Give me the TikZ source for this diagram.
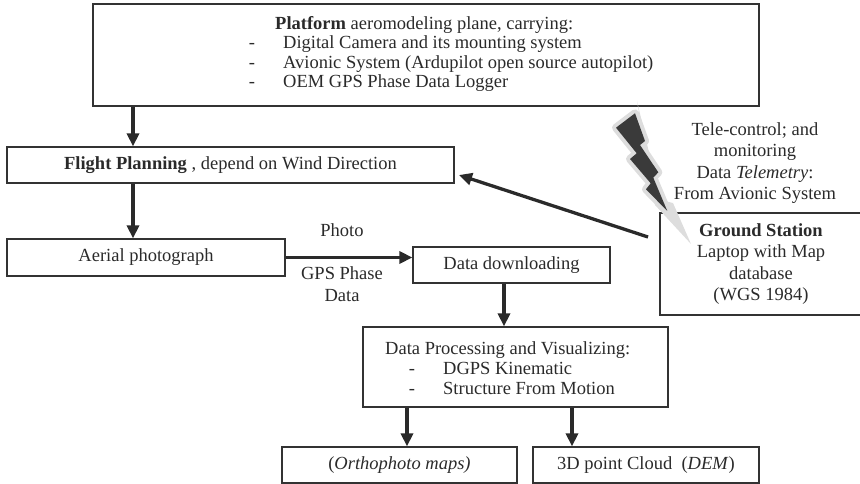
\documentclass[tikz,border=0pt]{standalone}
\usepackage{fontspec}
\setmainfont{Liberation Serif}
\usetikzlibrary{arrows.meta}
\definecolor{ink}{HTML}{2A2A2A}
\definecolor{line}{HTML}{333333}
\definecolor{bolt}{HTML}{3A3A3A}
\definecolor{glow}{HTML}{DDDDDD}
\begin{document}
\begin{tikzpicture}[x=1bp,y=-1bp,
  every node/.style={font=\fontsize{18.5bp}{21.5bp}\selectfont, text=ink},
  box/.style={draw=line, line width=1.2bp, rectangle, inner sep=0pt, align=center},
  arr/.style={draw=ink, line width=3.3bp, -{Triangle[length=13bp,width=12bp]}},
  lbl/.style={inner sep=0pt, align=center},
  ]
\useasboundingbox (0,0) rectangle (860,484);
\clip (0,0) rectangle (860,484);

% top box
\node[box, minimum width=666bp, minimum height=102bp] (top) at (426,55) {};
\node[lbl, anchor=base west] (t0) at (275,30) {\textbf{Platform} aeromodeling plane, carrying:};
\node[lbl, anchor=base] (td1) at (252,49) {-};
\node[lbl, anchor=base] (td2) at (252,68.5) {-};
\node[lbl, anchor=base] (td3) at (252,88) {-};
\node[lbl, anchor=base west] (t1) at (283,49) {Digital Camera and its mounting system};
\node[lbl, anchor=base west] (t2) at (283,68.5) {Avionic System (Ardupilot open source autopilot)};
\node[lbl, anchor=base west] (t3) at (283,88) {OEM GPS Phase Data Logger};

% other boxes
\node[box, minimum width=447bp, minimum height=36bp] (plan) at (230.5,165) {\textbf{Flight Planning} , depend on Wind Direction};
\node[box, minimum width=278bp, minimum height=37bp] (aer) at (146,257.5) {Aerial photograph};
\node[box, minimum width=197bp, minimum height=36bp] (dl) at (511.5,265) {Data downloading};
\node[box, minimum width=305bp, minimum height=80bp] (proc) at (515.5,367) {};
\node[lbl, anchor=base west] (p0) at (385,354) {Data Processing and Visualizing:};
\node[lbl, anchor=base] (pd1) at (412,374) {-};
\node[lbl, anchor=base] (pd2) at (412,394) {-};
\node[lbl, anchor=base west] (p1) at (443,374) {DGPS Kinematic};
\node[lbl, anchor=base west] (p2) at (443,394) {Structure From Motion};
\node[box, minimum width=235bp, minimum height=36bp] (ortho) at (399.5,465) {(\textit{Orthophoto maps)}};
\node[box, minimum width=226bp, minimum height=36bp] (cloud) at (646,465) {3D point Cloud\ \ (\textit{DEM})};
\node[box, minimum width=202bp, minimum height=102bp] (gs) at (761,264) {\textbf{Ground Station}\\Laptop with Map\\database\\(WGS 1984)};

% labels
\node[lbl] (tele) at (755,163) {Tele-control; and\\monitoring\\Data \textit{Telemetry}:\\From Avionic System};
\node[lbl] (photo) at (342,230) {Photo};
\node[lbl] (gps) at (342,284) {GPS Phase\\Data};

% arrows
\coordinate (xa) at (133,0);
\coordinate (xb) at (504,0);
\coordinate (xc) at (407,0);
\coordinate (xd) at (572,0);
\draw[arr] (xa |- top.south) -- (xa |- plan.north);
\draw[arr] (xa |- plan.south) -- (xa |- aer.north);
\draw[arr] (aer.east) -- (aer.east -| dl.west);
\draw[arr] (xb |- dl.south) -- (xb |- proc.north);
\draw[arr] (xc |- proc.south) -- (xc |- ortho.north);
\draw[arr] (xd |- proc.south) -- (xd |- cloud.north);
\coordinate (gsA) at (648,237);
\coordinate (pA) at (459,175);
\draw[arr] (gsA) -- (pA);

% lightning bolt with glow
\fill[glow] (637,101) -- (660,200) -- (673,203) -- (691,244) -- (655,205) -- cycle;
\filldraw[glow, line width=8bp, line join=round]
  (635,113.3) -- (645,141) -- (640,145) -- (658.3,172.3) -- (653.3,177.7) -- (667.3,211)
  -- (646,189.3) -- (650.7,183.3) -- (630,159) -- (636.7,153.3) -- (616,127.7) -- cycle;
\fill[bolt]
  (635,113.3) -- (645,141) -- (640,145) -- (658.3,172.3) -- (653.3,177.7) -- (667.3,211)
  -- (646,189.3) -- (650.7,183.3) -- (630,159) -- (636.7,153.3) -- (616,127.7) -- cycle;
\end{tikzpicture}
\end{document}
